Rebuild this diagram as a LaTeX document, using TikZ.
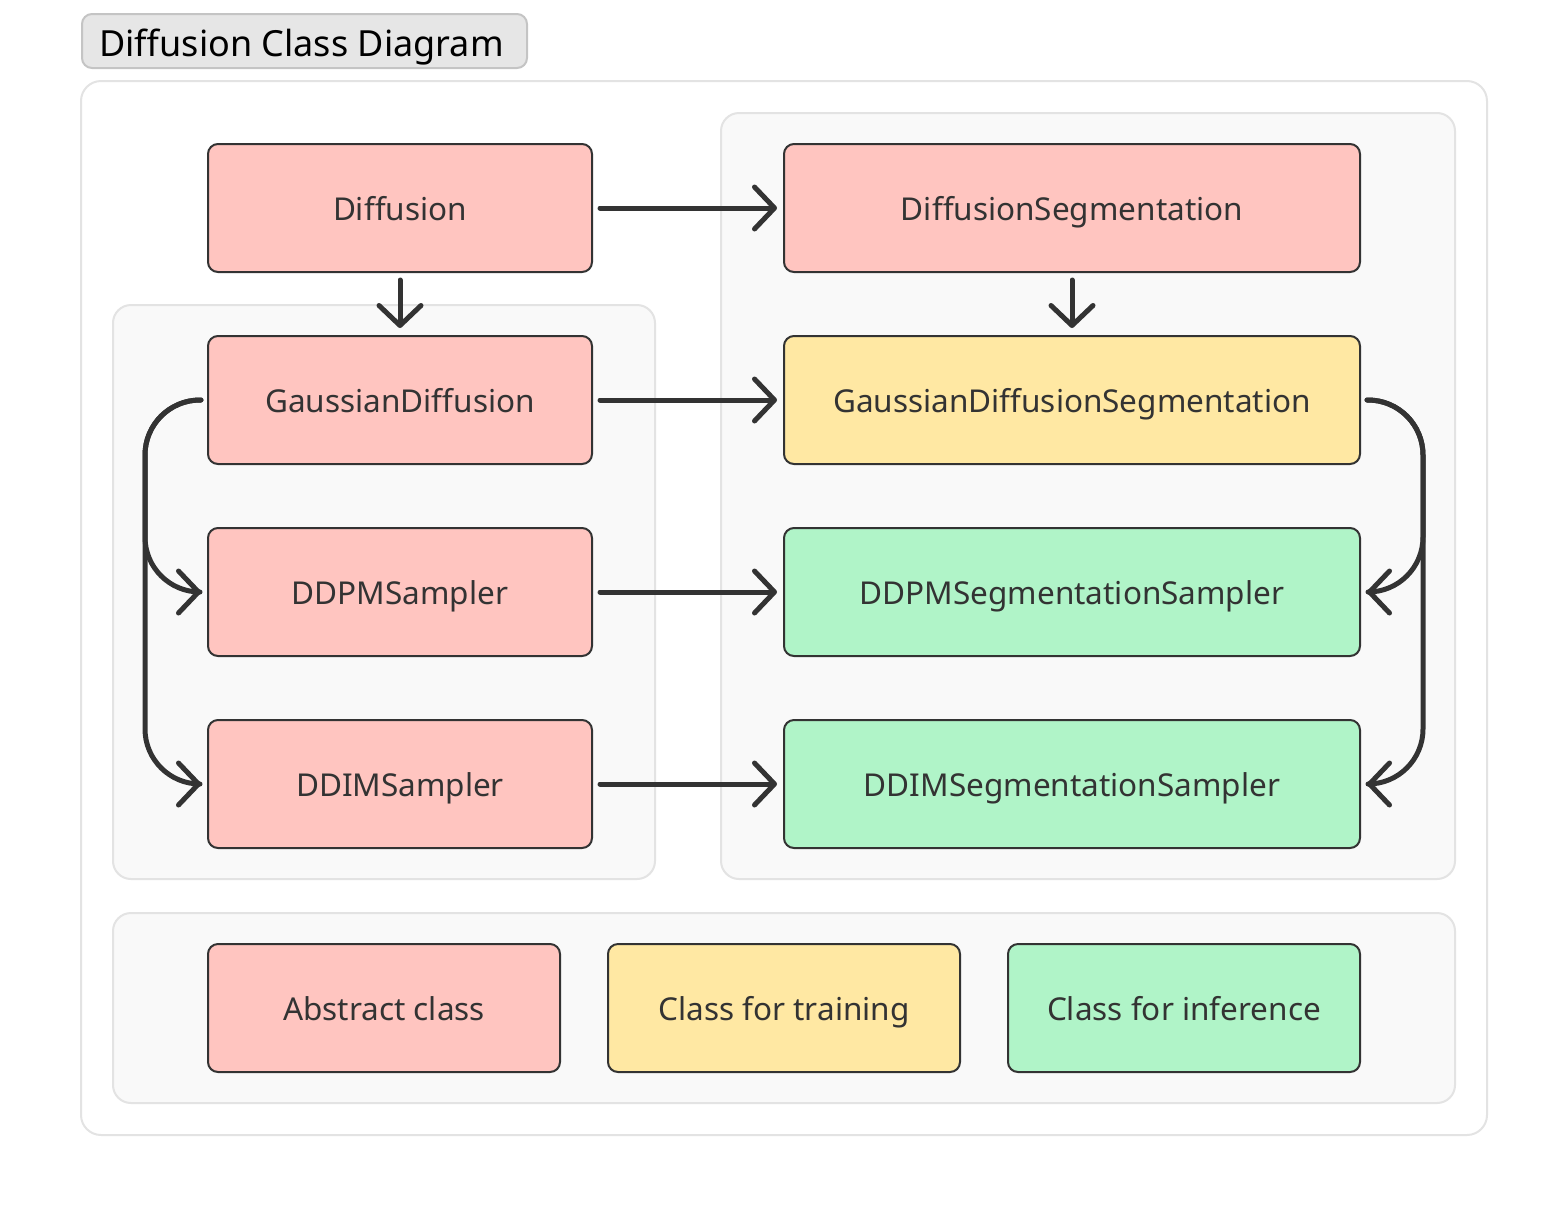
\documentclass[tikz,border=0pt]{standalone}
\usepackage{fontspec}
\setmainfont{Noto Sans}
\usetikzlibrary{arrows.meta}
\definecolor{pinkc}{HTML}{FFC5C0}
\definecolor{yellc}{HTML}{FFE8A3}
\definecolor{greenc}{HTML}{B0F4C8}
\definecolor{ink}{HTML}{333333}
\definecolor{grpfill}{HTML}{F9F9F9}
\definecolor{grpline}{HTML}{E3E3E3}
\definecolor{titlefill}{HTML}{E6E6E6}
\definecolor{titleline}{HTML}{C4C4C4}
\tikzset{
  cls/.style={draw=ink, line width=2pt, rounded corners=10pt, minimum height=128pt, text=ink, font=\fontsize{31.5}{36}\selectfont, inner sep=0pt, text height=30pt, text depth=6pt},
  widebox/.style={cls, minimum width=384pt},
  widerbox/.style={cls, minimum width=576pt},
  legbox/.style={cls, minimum width=352pt},
  grp/.style={draw=grpline, fill=grpfill, line width=2pt, rounded corners=18pt},
  conn/.style={draw=ink, line width=5pt, line cap=round, line join=round, -{Straight Barb[length=20pt,width=42pt,round]}},
}
\begin{document}
\begin{tikzpicture}[x=1pt,y=-1pt]
\useasboundingbox (0,0) rectangle (1568,1216);
% title
\node[draw=titleline, fill=titlefill, line width=2pt, rounded corners=10pt, minimum width=445pt, minimum height=54pt, inner sep=0pt, anchor=north west] (title) at (81,13) {};
\node[anchor=base west, font=\fontsize{36}{42}\selectfont, text=black, inner sep=0pt] (titletext) at (99,56) {Diffusion Class Diagram};
% outer container
\draw[draw=grpline, fill=white, line width=2pt, rounded corners=20pt] (81,81) rectangle (1487,1135);
% groups
\draw[grp] (113,305) rectangle (655,879);
\draw[grp] (721,113) rectangle (1455,879);
\draw[grp] (113,913) rectangle (1455,1103);
% left column
\node[widebox, fill=pinkc] (diff) at (400,208) {Diffusion};
\node[widebox, fill=pinkc] (gd) at (400,400) {GaussianDiffusion};
\node[widebox, fill=pinkc] (ddpm) at (400,592) {DDPMSampler};
\node[widebox, fill=pinkc] (ddim) at (400,784) {DDIMSampler};
% right column
\node[widerbox, fill=pinkc] (dseg) at (1072,208) {DiffusionSegmentation};
\node[widerbox, fill=yellc] (gds) at (1072,400) {GaussianDiffusionSegmentation};
\node[widerbox, fill=greenc] (ddpms) at (1072,592) {DDPMSegmentationSampler};
\node[widerbox, fill=greenc] (ddims) at (1072,784) {DDIMSegmentationSampler};
% legend
\node[legbox, fill=pinkc] (lab) at (384,1008) {Abstract class};
\node[legbox, fill=yellc] (ltr) at (784,1008) {Class for training};
\node[legbox, fill=greenc] (lin) at (1184,1008) {Class for inference};
% straight connectors
\draw[conn] ([xshift=7pt]diff.east) -- ([xshift=-6pt]dseg.west);
\draw[conn] ([xshift=7pt]gd.east) -- ([xshift=-6pt]gds.west);
\draw[conn] ([xshift=7pt]ddpm.east) -- ([xshift=-6pt]ddpms.west);
\draw[conn] ([xshift=7pt]ddim.east) -- ([xshift=-6pt]ddims.west);
\draw[conn] ([yshift=-7pt]diff.south) -- ([yshift=7pt]gd.north);
\draw[conn] ([yshift=-7pt]dseg.south) -- ([yshift=7pt]gds.north);
% rails
\coordinate (lrail) at (145,0);
\coordinate (rrail) at (1423,0);
\draw[conn, rounded corners=55pt] ([xshift=-6pt]gd.west) -| (lrail |- ddpm.west) -- ([xshift=-6pt]ddpm.west);
\draw[conn, rounded corners=55pt] ([xshift=-6pt]gd.west) -| (lrail |- ddim.west) -- ([xshift=-6pt]ddim.west);
\draw[conn, rounded corners=55pt] ([xshift=6pt]gds.east) -| (rrail |- ddpms.east) -- ([xshift=6pt]ddpms.east);
\draw[conn, rounded corners=55pt] ([xshift=6pt]gds.east) -| (rrail |- ddims.east) -- ([xshift=6pt]ddims.east);
\end{tikzpicture}
\end{document}
